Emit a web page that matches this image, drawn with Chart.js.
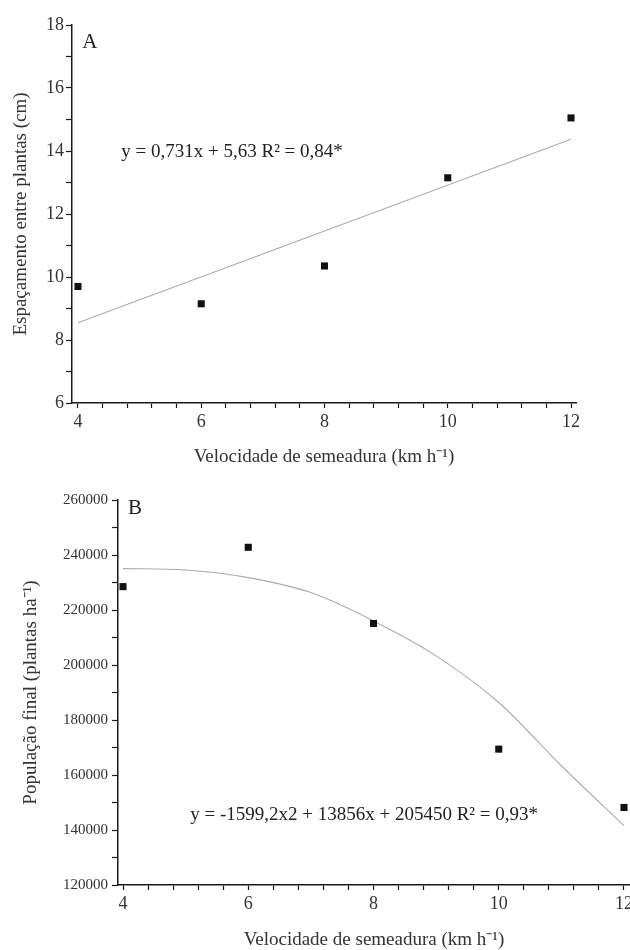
<!DOCTYPE html>
<html lang="pt">
<head>
<meta charset="UTF-8" />
<title>Velocidade de semeadura</title>
<script src="https://cdn.jsdelivr.net/npm/chart.js"></script>
<style>
    body { margin: 0; background: #fff; overflow: hidden; }
    .painel { position: absolute; left: 0; width: 630px; overflow: hidden; }
    #painelA { top: 0; height: 470px; }
    #painelB { top: 470px; height: 480px; }
</style>
</head>
<body>

<div class="painel" id="painelA"><canvas id="graficoA" width="630" height="470"></canvas></div>
<!-- o painel B é cortado na borda direita, como na figura original -->
<div class="painel" id="painelB"><canvas id="graficoB" width="645" height="480"></canvas></div>

<script>
    // dados
    const velocidade = [4, 6, 8, 10, 12];
    const espacamento = [9.7, 9.15, 10.35, 13.15, 15.05];
    const ajusteAX = [4, 12];
    const ajusteA = [8.55, 14.37];
    const populacao = [228500, 242800, 215100, 169400, 148200];
    const ajusteBX = [4, 5, 6, 7, 8, 9, 10, 11, 12];
    const ajusteB = [235050, 234570, 231780, 226330, 216040, 203330, 186370, 163360, 141560];
    const ticksX = [4, 6, 8, 10, 12];
    const ticksYA = [6, 8, 10, 12, 14, 16, 18];
    const ticksYB = [120000, 140000, 160000, 180000, 200000, 220000, 240000, 260000];

    const FONTE = 'Liberation Serif, Times New Roman, serif';
    const COR_EIXO = '#1a1a1a';
    const COR_TEXTO = '#333';

    function passos(ini, fim, passo) {
        const out = [];
        for (let v = ini; v <= fim + 1e-9; v += passo) out.push(Math.round(v * 1000) / 1000);
        return out;
    }

    function ehMaior(v, lista) {
        return lista.some(t => Math.abs(t - v) < 1e-6);
    }

    function pares(xs, ys) {
        return xs.map((x, i) => ({ x: x, y: ys[i] }));
    }

    // escreve textos dentro do gráfico (posição em unidades dos eixos)
    function textos(itens) {
        return {
            id: 'textos',
            afterDraw(chart) {
                const ctx = chart.ctx;
                const sx = chart.scales.x, sy = chart.scales.y;
                ctx.save();
                ctx.fillStyle = '#222';
                ctx.textBaseline = 'middle';
                itens.forEach(t => {
                    ctx.font = t.size + 'px ' + FONTE;
                    ctx.textAlign = t.align;
                    ctx.fillText(t.text, sx.getPixelForValue(t.x), sy.getPixelForValue(t.y));
                });
                ctx.restore();
            }
        };
    }

    function eixoX(min, max, altura, tituloPad) {
        return {
            type: 'linear',
            min: min,
            max: max,
            afterBuildTicks: s => { s.ticks = passos(4, 12, 0.4).map(v => ({ value: v })); },
            afterFit: s => { s.height = altura; s.paddingLeft = 0; s.paddingRight = 0; },
            border: { display: true, color: COR_EIXO, width: 1.5 },
            grid: { drawOnChartArea: false, tickLength: 5, tickColor: COR_EIXO, tickWidth: 1.2 },
            ticks: {
                autoSkip: false,
                maxRotation: 0,
                padding: 3,
                color: COR_TEXTO,
                font: { family: FONTE, size: 18 },
                callback: v => ehMaior(v, ticksX) ? String(v) : ''
            },
            title: {
                display: true,
                text: 'Velocidade de semeadura (km h⁻¹)',
                color: COR_TEXTO,
                font: { family: FONTE, size: 19, lineHeight: 1 },
                padding: { top: 0, bottom: tituloPad }
            }
        };
    }

    function eixoY(min, max, menor, maiores, largura, titulo, tituloPad, tamanho, rotuloPad) {
        return {
            type: 'linear',
            min: min,
            max: max,
            afterBuildTicks: s => { s.ticks = passos(min, max, menor).map(v => ({ value: v })); },
            afterFit: s => { s.width = largura; s.paddingTop = 0; s.paddingBottom = 0; },
            border: { display: true, color: COR_EIXO, width: 1.5 },
            grid: { drawOnChartArea: false, tickLength: 6, tickColor: COR_EIXO, tickWidth: 1.2 },
            ticks: {
                autoSkip: false,
                padding: rotuloPad,
                color: COR_TEXTO,
                font: { family: FONTE, size: tamanho },
                callback: v => ehMaior(v, maiores) ? String(v) : ''
            },
            title: {
                display: true,
                text: titulo,
                color: COR_TEXTO,
                font: { family: FONTE, size: 19, lineHeight: 1 },
                padding: { top: tituloPad, bottom: 0 }
            }
        };
    }

    const pontos = {
        pointStyle: 'rect',
        pointRadius: 5,
        pointHoverRadius: 5,
        backgroundColor: '#111',
        borderColor: '#111',
        borderWidth: 0,
        showLine: false
    };

    const linha = {
        showLine: true,
        pointRadius: 0,
        borderColor: '#ababab',
        borderWidth: 1.1,
        backgroundColor: 'transparent'
    };

    // Painel A
    new Chart(document.getElementById('graficoA'), {
        type: 'scatter',
        data: {
            datasets: [
                Object.assign({ data: pares(velocidade, espacamento) }, pontos),
                Object.assign({ data: pares(ajusteAX, ajusteA) }, linha)
            ]
        },
        options: {
            responsive: false,
            animation: false,
            layout: { padding: { top: 25, right: 54, left: 0, bottom: 0 } },
            plugins: { legend: { display: false }, tooltip: { enabled: false } },
            scales: {
                x: eixoX(3.903, 12.081, 67, 3),
                y: eixoY(6, 18, 1, ticksYA, 72, 'Espaçamento entre plantas (cm)', 12, 18, 2)
            }
        },
        plugins: [textos([
            { text: 'A', x: 4.07, y: 17.45, align: 'left', size: 21 },
            { text: 'y = 0,731x + 5,63 R² = 0,84*', x: 6.5, y: 13.97, align: 'center', size: 19 }
        ])]
    });

    // Painel B
    new Chart(document.getElementById('graficoB'), {
        type: 'scatter',
        data: {
            datasets: [
                Object.assign({ data: pares(velocidade, populacao) }, pontos),
                Object.assign({ data: pares(ajusteBX, ajusteB), cubicInterpolationMode: 'monotone' }, linha)
            ]
        },
        options: {
            responsive: false,
            animation: false,
            layout: { padding: { top: 30, right: 15, left: 0, bottom: 0 } },
            plugins: { legend: { display: false }, tooltip: { enabled: false } },
            scales: {
                x: eixoX(3.92, 12.096, 65, 0),
                y: eixoY(120000, 260000, 10000, ticksYB, 118, 'População final (plantas ha⁻¹)', 22, 15, 4)
            }
        },
        plugins: [textos([
            { text: 'B', x: 4.08, y: 257000, align: 'left', size: 21 },
            { text: 'y = -1599,2x2 + 13856x + 205450 R² = 0,93*', x: 7.85, y: 145450, align: 'center', size: 19 }
        ])]
    });
</script>

</body>
</html>
